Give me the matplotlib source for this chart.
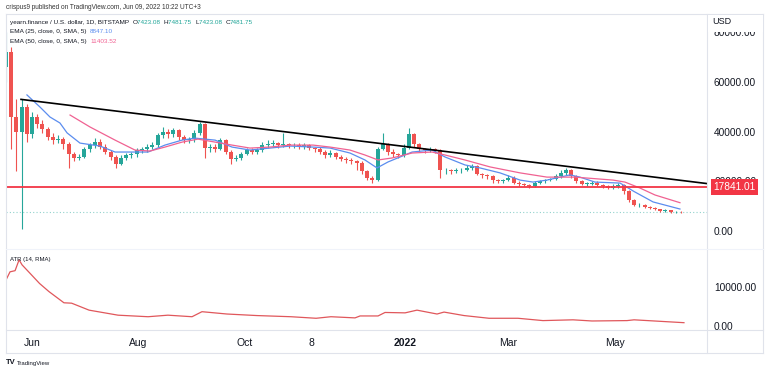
import numpy as np
import matplotlib
matplotlib.use('Agg')
import matplotlib.pyplot as plt
import matplotlib.dates as mdates
import matplotlib.transforms as mtrans
from matplotlib.patches import Rectangle
from matplotlib.lines import Line2D
from matplotlib.ticker import FuncFormatter

plt.rcParams['font.family'] = ['Liberation Sans', 'DejaVu Sans']

# ---------------- data (prices in thousand USD) ----------------
candle_start = '2021-05-17'
candle_step_days = 3
opens = [66, 72, 46, 40, 50, 39, 46, 43, 41, 38,
         36.5, 37, 35, 31, 29.5, 30, 33, 34.5, 36, 34,
         32, 30, 27, 29.5, 30.5, 31, 32.5, 33, 34, 34.5,
         38.5, 40, 39, 40.5, 38, 36.5, 37, 39.5, 43, 33.5,
         34, 33, 36.5, 32, 29, 29.5, 31, 32.5, 32, 32.5,
         34.5, 35, 35.5, 34.5, 35, 34.5, 34.5, 34, 34.5, 33.5,
         33, 32, 30.5, 31.5, 30, 29, 28.5, 28, 27.5, 24,
         21.5, 20.5, 33, 35, 32, 31, 30.5, 33.5, 39, 35,
         33, 32.5, 33, 32.5, 24.5, 24.5, 24, 24.5, 24.5, 25.5,
         26, 23, 22.5, 22, 20.5, 20, 20.5, 21.5, 19.5, 19,
         18.5, 18, 19.5, 20, 20.5, 21, 22, 23.5, 24.5, 22,
         20, 19, 19, 19.5, 18.5, 18, 17.5, 18, 18.5, 16,
         12.5, 10.5, 10.5, 9.7, 9.3, 8.8, 8.0, 8.3, 7.5, 7.7]
closes = [72, 46, 40, 50, 39, 46, 43, 41, 38, 36.5,
          37, 35, 31, 29.5, 30, 33, 34.5, 36, 34, 32,
          30, 27, 29.5, 30.5, 31, 32.5, 33, 34, 34.5, 38.5,
          40, 39, 40.5, 38, 36.5, 37, 39.5, 43, 33.5, 34,
          33, 36.5, 32, 29, 29.5, 31, 32.5, 32, 32.5, 34.5,
          35, 35.5, 34.5, 35, 34.5, 34.5, 34, 34.5, 33.5, 33,
          32, 30.5, 31.5, 30, 29, 28.5, 28, 27.5, 24, 21.5,
          20.5, 33, 35, 32, 31, 30.5, 33.5, 39, 35, 33,
          32.5, 33, 32.5, 24.5, 24.5, 24, 24.5, 24.5, 25.5, 26,
          23, 22.5, 22, 20.5, 20, 20.5, 21.5, 19.5, 19, 18.5,
          18, 19.5, 20, 20.5, 21, 22, 23.5, 24.5, 22, 20,
          19, 19, 19.5, 18.5, 18, 17.5, 18, 18.5, 16, 12.5,
          10.5, 10.5, 9.7, 9.3, 8.8, 8.0, 8.3, 7.5, 7.7, 7.48]
highs = [80, 74, 53, 53, 51, 48, 47, 44.5, 42, 39.5,
         38.5, 38, 36, 32, 31, 34, 35.5, 37.5, 37, 35,
         32.5, 30.5, 30.5, 31.5, 32, 33.5, 34, 35, 36, 39.5,
         42, 41, 41.5, 41, 38.5, 38, 40.5, 44, 43.5, 35,
         35, 37.5, 37, 32.5, 30.5, 32, 33.5, 33.5, 33.5, 36,
         36.5, 36.5, 36, 39.5, 35.5, 35.5, 35.5, 35.5, 35, 34,
         34, 32.5, 32.5, 32, 30.5, 30, 29.5, 28.5, 28, 24.5,
         22, 34, 39.5, 35.5, 33, 31.5, 35, 41.5, 39.5, 35.5,
         33.5, 34, 33.5, 33, 25.5, 25, 25.5, 25.5, 26.5, 27,
         26.5, 23.5, 23, 22.5, 21, 21, 22.5, 22, 20, 19.5,
         19, 20, 20.5, 21, 21.5, 23, 24.5, 25.5, 25, 22.5,
         20.5, 19.8, 20, 20, 19, 18.5, 18.8, 19.5, 19, 16.5,
         13, 11.3, 10.8, 10, 9.6, 9.0, 8.7, 8.5, 8.1, 7.9]
lows = [60, 33, 24, 1, 36, 37.5, 41.5, 39.5, 36.5, 35,
        35.5, 33, 25.5, 28, 28.5, 29.5, 32, 33.5, 33, 31,
        28.5, 25.4, 26.5, 28.5, 29.5, 30, 31.5, 32, 33, 34,
        37.5, 37.5, 38, 36.5, 35.5, 35.5, 36, 38.5, 29.5, 32,
        32, 32.5, 31, 27, 28, 28.5, 30.5, 31, 31, 32,
        33.5, 34, 33.5, 34, 33.5, 33.5, 33, 33, 32.5, 32,
        31, 29.5, 30, 29, 28, 27.5, 27, 24.5, 23, 20.5,
        19.2, 20, 32.5, 30.5, 30, 29.5, 30, 33, 34, 32,
        31.5, 32, 31.5, 21.5, 23, 23, 23.5, 23.5, 24, 24.5,
        22.5, 21.5, 21, 19.5, 19.5, 19.5, 20, 19, 18.3, 18,
        17.5, 17.8, 19, 19.5, 20, 20.5, 21.5, 22.5, 21.5, 19.5,
        18.5, 18.3, 18.5, 18, 17.3, 16.8, 17, 17.5, 15, 11.5,
        10, 9.8, 9.2, 8.8, 8.3, 7.6, 7.7, 7.1, 7.2, 7.2]

# EMA lines: days since 2021-06-01, value (k USD)
ema25_days = [-2.9, 4.6, 10.3, 16.0, 20.1, 27.5, 39.0, 47.6, 66.5, 76.2, 86.0, 93.4,
              104.9, 114.6, 124.9, 136.4, 147.9, 161.0, 170.8, 182.2, 190.8, 197.7,
              204.0, 210.9, 217.8, 229.2, 236.7, 248.1, 256.7, 268.2, 279.7, 287.1,
              295.1, 302.6, 308.3, 314.0, 322.6, 337.0, 345.0, 355.9, 371.3]
ema25_vals = [54.8, 49.9, 45.9, 43.5, 39.5, 35.4, 34.2, 31.8, 31.8, 34.6, 36.6, 37.4,
              36.6, 33.8, 32.6, 33.4, 34.2, 33.8, 33.4, 31.4, 28.6, 25.4,
              27.8, 29.8, 31.8, 32.6, 29.8, 26.6, 25.4, 23.4, 20.5, 19.7,
              20.5, 21.7, 22.6, 21.7, 19.7, 19.3, 15.9, 11.7, 8.85]
ema50_days = [21.8, 33.2, 47.6, 59.0, 67.6, 76.2, 86.0, 95.1, 104.9, 114.6, 124.9,
              136.4, 147.9, 161.0, 170.8, 182.2, 190.8, 198.3, 206.3, 217.8, 229.2,
              236.7, 248.1, 262.5, 279.7, 295.1, 311.2, 333.0, 339.8, 348.4, 357.0, 371.3]
ema50_vals = [46.7, 41.9, 36.6, 32.6, 32.2, 33.8, 35.8, 37.0, 35.8, 34.6, 33.4,
              33.8, 34.6, 34.6, 33.8, 32.6, 30.6, 28.6, 29.4, 31.4, 31.8,
              30.6, 28.6, 25.8, 23.4, 21.7, 21.7, 20.5, 19.7, 17.3, 14.5, 11.4]

# ATR (14, RMA): days since 2021-06-01, value (k USD)
atr_days = [-14.9, -12.6, -9.7, -7.4, -5.7, -1.1, 4.3, 9.7, 18.3, 22.7, 32.7, 49.3,
            66.5, 77.9, 91.7, 97.4, 111.7, 128.9, 148.4, 162.8, 171.3, 185.1, 188.0,
            198.3, 202.3, 213.8, 220.6, 232.1, 236.1, 247.6, 261.9, 278.5, 292.8,
            310.0, 320.9, 341.0, 345.0, 373.6]
atr_vals = [11.9, 14.0, 14.3, 17.1, 15.8, 13.6, 11.0, 8.9, 6.0, 5.9, 4.1, 2.8,
            2.4, 2.8, 2.4, 3.7, 3.1, 2.7, 2.4, 2.0, 2.4, 2.1, 2.6,
            2.6, 3.5, 3.4, 4.1, 3.1, 3.6, 2.7, 2.0, 2.0, 1.4,
            1.6, 1.3, 1.4, 1.6, 0.86]

trend_days = [-6.3, 386.8]
trend_vals = [53.0, 19.1]
support_level = 17841.01
last_close = 7481.75

price_ticks = [0, 20000, 40000, 60000, 80000]
atr_ticks = [0, 10000]
x_tick_dates = ['2021-06-01', '2021-08-01', '2021-10-01', '2021-11-08',
                '2022-01-01', '2022-03-01', '2022-05-01']
x_tick_labels = ['Jun', 'Aug', 'Oct', '8', '2022', 'Mar', 'May']

# ---------------- helpers ----------------
W, H = 770, 372
fig = plt.figure(figsize=(W / 100, H / 100), dpi=100)
fig.patch.set_facecolor('white')


def fx(px):
    return px / W


def fy(py):
    return 1 - py / H


base = mdates.date2num(np.datetime64('2021-06-01'))
to_usd = 1000.0
o = np.array(opens) * to_usd
c = np.array(closes) * to_usd
h = np.array(highs) * to_usd
l = np.array(lows) * to_usd
cdates = mdates.date2num(np.datetime64(candle_start)) + candle_step_days * np.arange(len(closes))

UP, DOWN = '#26a69a', '#ef5350'
GRID = '#e0e3eb'
TXT = '#131722'

LEFT, AXR = 5.5, 707
P_TOP, P_BOT = 14, 248
A_TOP, A_BOT = 250, 330
xmin, xmax = base - 15.19, base + 386.8

ax = fig.add_axes([fx(LEFT), fy(P_BOT), fx(AXR - LEFT), (P_BOT - P_TOP) / H])
axa = fig.add_axes([fx(LEFT), fy(A_BOT), fx(AXR - LEFT), (A_BOT - A_TOP) / H])

for a in (ax, axa):
    for s in a.spines.values():
        s.set_visible(False)
    a.set_xlim(xmin, xmax)
    a.yaxis.tick_right()
    a.tick_params(axis='y', length=0, pad=5, labelsize=7.3, labelcolor=TXT)
    a.yaxis.set_major_formatter(FuncFormatter(lambda v, p: f'{v:.2f}'))
    a.set_facecolor('white')

ax.set_ylim(-6846, 87386)
ax.set_yticks(price_ticks)
ax.set_xticks([])
axa.set_ylim(-1030, 19640)
axa.set_yticks(atr_ticks)

# candles
cols = [UP if cc >= oo else DOWN for oo, cc in zip(o, c)]
ax.vlines(cdates, l, h, colors=cols, lw=0.8, zorder=3)
body_lo = np.minimum(o, c)
body_h = np.maximum(np.abs(c - o), 150)
ax.bar(cdates, body_h, bottom=body_lo, width=2.3, color=cols, linewidth=0, zorder=4)

# EMAs
ax.plot(base + np.array(ema25_days), np.array(ema25_vals) * to_usd, color='#5b8def', lw=0.9, zorder=5)
ax.plot(base + np.array(ema50_days), np.array(ema50_vals) * to_usd, color='#f06292', lw=0.9, zorder=5)

# trend line and support
ax.plot(base + np.array(trend_days), np.array(trend_vals) * to_usd, color='#000000', lw=1.2, zorder=6)
ax.axhline(support_level, color='#f23645', lw=1.3, zorder=6)
ax.axhline(last_close, color=UP, lw=0.8, ls=(0, (1, 2)), alpha=0.5, zorder=2)

# ATR
axa.plot(base + np.array(atr_days), np.array(atr_vals) * to_usd, color='#e0575b', lw=0.9)

# x ticks on ATR pane
xt = [mdates.date2num(np.datetime64(d)) for d in x_tick_dates]
axa.set_xticks(xt)
axa.set_xticklabels(x_tick_labels)
axa.tick_params(axis='x', length=0, pad=6, labelsize=7.5, labelcolor=TXT)
for t in axa.get_xticklabels():
    if t.get_text() == '2022':
        t.set_fontweight('bold')

# frame lines
def fline(x0, y0, x1, y1, color=GRID, lw=0.8):
    fig.add_artist(Line2D([fx(x0), fx(x1)], [fy(y0), fy(y1)], color=color, lw=lw,
                          transform=fig.transFigure, zorder=10))

fline(LEFT, P_TOP, 763, P_TOP)
fline(LEFT, 353, 763, 353)
fline(LEFT, P_TOP, LEFT, 353)
fline(763, P_TOP, 763, 353)
fline(AXR, P_TOP, AXR, 353)
fline(LEFT, A_BOT, 763, A_BOT)
fline(LEFT, 249, 763, 249, color='#f0f3fa')

# USD cover box and label (partially hides the top tick label, as in the reference)
fig.add_artist(Rectangle((fx(AXR + 0.5), fy(32)), fx(762.5 - AXR - 0.5), (32 - P_TOP - 0.5) / H,
                         transform=fig.transFigure, facecolor='white', edgecolor='none', zorder=11))
fig.text(fx(712), fy(22), 'USD', size=6.5, color=TXT, va='center', ha='left', zorder=12)

# price box for support level
blend = mtrans.blended_transform_factory(fig.transFigure, ax.transData)
fig.text(fx(734.5), support_level, f'{support_level:.2f}', transform=blend, size=7.3,
         color='white', va='center', ha='center', zorder=12,
         bbox=dict(boxstyle='square,pad=0.28', fc='#f23645', ec='none'))

# header and legends
def chain(parts, x, y, size):
    t = fig.text(fx(x), fy(y), parts[0][0], color=parts[0][1], size=size, va='center', ha='left', zorder=12)
    for s, col in parts[1:]:
        t = ax.annotate(s, xy=(1, 0), xycoords=t, va='bottom', ha='left', color=col,
                        size=size, annotation_clip=False, zorder=12)


fig.text(fx(6), fy(7.5), 'crispus9 published on TradingView.com, Jun 09, 2022 10:22 UTC+3',
         size=4.7, color='#333333', va='center', ha='left')
teal = '#22a699'
chain([('yearn.finance / U.S. dollar, 1D, BITSTAMP  ', TXT), ('O', TXT), ('7423.08  ', teal),
       ('H', TXT), ('7481.75  ', teal), ('L', TXT), ('7423.08  ', teal), ('C', TXT),
       ('7481.75', teal)], 10, 22.7, 4.6)
chain([('EMA (25, close, 0, SMA, 5)  ', TXT), ('8847.10', '#5b8def')], 10, 31.7, 4.6)
chain([('EMA (50, close, 0, SMA, 5)  ', TXT), ('11403.52', '#f06292')], 10, 41.3, 4.6)
chain([('ATR (14, RMA)  ', TXT), ('635.03', '#e0575b')], 10, 259, 4.3)

# TradingView logo
fig.text(fx(6), fy(363), 'TV', size=5.5, weight='bold', color=TXT, va='center', ha='left')
fig.text(fx(17), fy(363), 'TradingView', size=4.3, color=TXT, va='center', ha='left')

fig.savefig('out.png', dpi=100, facecolor='white')
